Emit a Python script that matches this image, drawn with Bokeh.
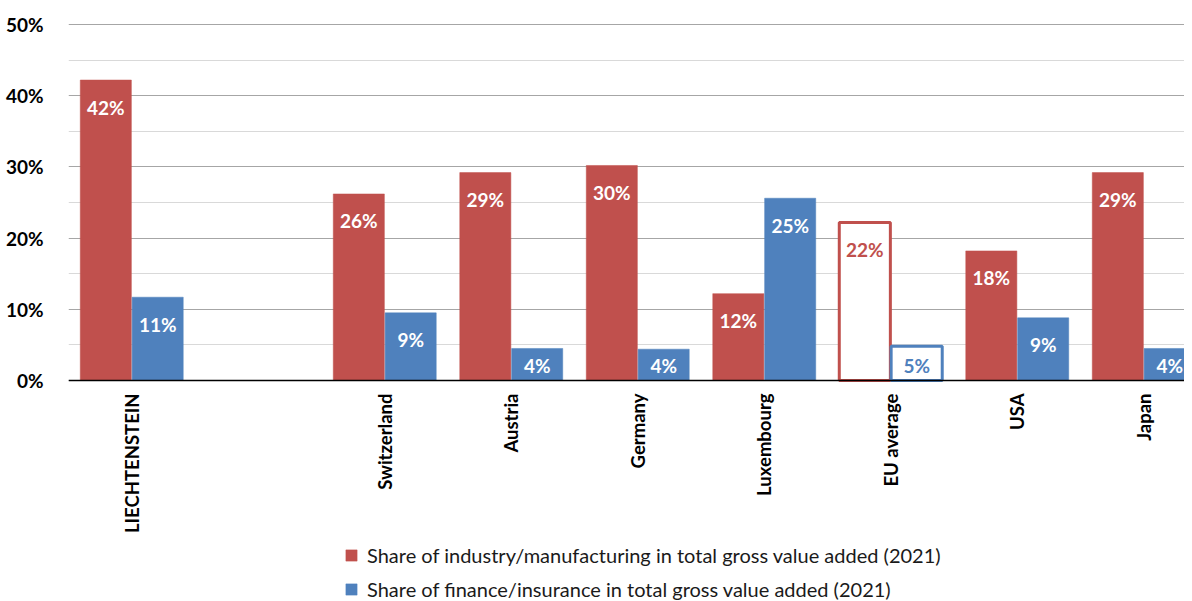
import numpy as np
from bokeh.plotting import figure
from bokeh.models import (Range1d, FixedTicker, PrintfTickFormatter,
                          ColumnDataSource, Legend, LegendItem)
from bokeh.embed import file_html
from bokeh.resources import INLINE
from bokeh.core.properties import value

# ---- data ----
countries = ["LIECHTENSTEIN", "", "Switzerland", "Austria", "Germany",
             "Luxembourg", "EU average", "USA", "Japan"]
industry = [42.2, np.nan, 26.2, 29.2, 30.2, 12.2, 22.2, 18.2, 29.2]
finance = [11.7, np.nan, 9.5, 4.5, 4.4, 25.6, 4.8, 8.8, 4.5]
industry_labels = ["42%", "", "26%", "29%", "30%", "12%", "22%", "18%", "29%"]
finance_labels = ["11%", "", "9%", "4%", "4%", "25%", "5%", "9%", "4%"]
y_ticks = [0, 10, 20, 30, 40, 50]
y_minor = [5, 15, 25, 35, 45]
highlight = "EU average"
series_names = ["Share of industry/manufacturing in total gross value added (2021)",
                "Share of finance/insurance in total gross value added (2021)"]

RED = "#C0504D"
BLUE = "#4F81BD"
FONT = "Lato"

PX_PER_UNIT = 356 / 50          # 10% = 71.2 px
FRAME_W = 1116
FRAME_H = 579                   # frame reaches the bottom so the legend fits inside
TOP_PAD_PX = 2
Y_MIN = -(FRAME_H - 356 - TOP_PAD_PX) / PX_PER_UNIT
Y_MAX = max(y_ticks) + TOP_PAD_PX / PX_PER_UNIT

idx = np.arange(len(countries)) + 0.5
valid = [i for i, c in enumerate(countries) if c]
hl = [countries[i] == highlight for i in valid]

def src(vals, labels, color, off):
    tops = [vals[i] for i in valid]
    return ColumnDataSource(dict(
        x=[idx[i] + off for i in valid],
        top=tops,
        ly=[max(t - 27 / PX_PER_UNIT, 15 / PX_PER_UNIT) for t in tops],
        label=[labels[i] for i in valid],
        fill=["white" if h else color for h in hl],
        line=[color for h in hl],
        lw=[3 if h else 0.5 for h in hl],
        tc=[color if h else "white" for h in hl],
    ))

BW = 0.41
s_ind = src(industry, industry_labels, RED, -BW / 2)
s_fin = src(finance, finance_labels, BLUE, BW / 2)

p = figure(frame_width=FRAME_W, frame_height=FRAME_H, output_backend="svg", toolbar_location=None,
           x_range=Range1d(0, FRAME_W / 126.5), y_range=Range1d(Y_MIN, Y_MAX),
           min_border_left=68, min_border_top=24 - TOP_PAD_PX, min_border_right=0,
           min_border_bottom=0,
           background_fill_color="white", border_fill_color="white")
p.outline_line_color = None

r1 = p.vbar(x="x", top="top", width=BW * 0.985, bottom=0, source=s_ind,
            fill_color="fill", line_color="line", line_width="lw")
r2 = p.vbar(x="x", top="top", width=BW * 0.985, bottom=0, source=s_fin,
            fill_color="fill", line_color="line", line_width="lw")

for s in (s_ind, s_fin):
    p.text(x="x", y="ly", text="label", source=s, text_color="tc",
           text_font=value(FONT), text_font_style="bold", text_font_size="19px",
           text_align="center", text_baseline="middle")

# axes
p.yaxis.ticker = FixedTicker(ticks=y_ticks, minor_ticks=y_minor)
p.yaxis.formatter = PrintfTickFormatter(format="%d%%")
p.yaxis.axis_line_color = None
p.yaxis.major_tick_line_color = None
p.yaxis.minor_tick_line_color = None
p.yaxis.major_label_text_font = FONT
p.yaxis.major_label_text_font_style = "bold"
p.yaxis.major_label_text_font_size = "19px"
p.yaxis.major_label_text_color = "black"
p.yaxis.major_label_standoff = 19

p.xaxis.fixed_location = 0
p.xaxis.ticker = FixedTicker(ticks=[float(idx[i]) for i in valid])
p.xaxis.major_label_overrides = {float(idx[i]): countries[i] for i in valid}
p.xaxis.major_label_orientation = np.pi / 2
p.xaxis.axis_line_color = "black"
p.xaxis.axis_line_width = 1.3
p.xaxis.major_tick_line_color = None
p.xaxis.minor_tick_line_color = None
p.xaxis.major_label_text_font = FONT
p.xaxis.major_label_text_font_style = "bold"
p.xaxis.major_label_text_font_size = "18.5px"
p.xaxis.major_label_text_color = "black"
p.xaxis.major_label_standoff = 7

p.xgrid.grid_line_color = None
p.ygrid.grid_line_color = "#A6A6A6"
p.ygrid.minor_grid_line_color = "#D9D9D9"
p.ygrid.grid_line_width = 1
p.ygrid.minor_grid_line_width = 1

legend = Legend(items=[LegendItem(label=series_names[0], renderers=[r1]),
                       LegendItem(label=series_names[1], renderers=[r2])],
                orientation="vertical", location=(276, 0),
                label_text_font=FONT, label_text_font_size="20px",
                label_text_color="#1a1a1a", glyph_width=14, glyph_height=14,
                label_standoff=9, label_height=22, spacing=10, padding=0, margin=0,
                border_line_color=None, background_fill_alpha=0)
p.add_layout(legend, "center")

open("out.html", "w").write(file_html(p, INLINE))
